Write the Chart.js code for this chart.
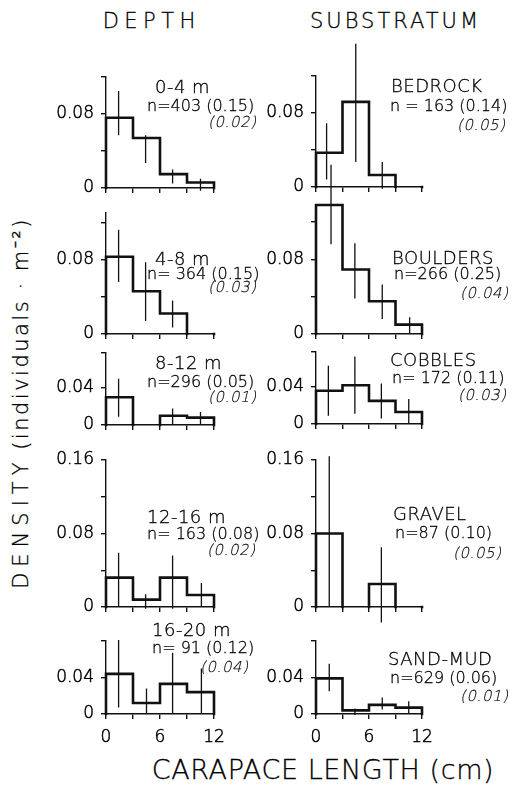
<!DOCTYPE html>
<html>
<head>
<meta charset="utf-8">
<script src="https://cdn.jsdelivr.net/npm/chart.js@4.4.1/dist/chart.umd.min.js"></script>
<style>
  html, body { margin: 0; padding: 0; background: #fff; }
  #fig { position: relative; width: 518px; height: 790px; overflow: hidden;
         font-family: "DejaVu Sans", "Liberation Sans", sans-serif; font-weight: 200; color: #000;
         -webkit-text-stroke: 0.3px #000; }
  #fig canvas { position: absolute; }
  .t { position: absolute; white-space: nowrap; line-height: 1; transform: translateY(-50%); }
  .name { font-size: 18px; letter-spacing: 0.5px; }
  .n { font-size: 16px; }
  /* slanted light face for the standard errors */
  .se { font-size: 15px; letter-spacing: 0.6px; transform: translateY(-50%) skewX(-13deg); -webkit-text-stroke: 0.15px #000; }
  .head { position: absolute; top: 21px; font-size: 21px; line-height: 1; white-space: nowrap;
          transform: translate(-50%, -50%); }
  .ytitle { position: absolute; left: 21px; top: 403px; font-size: 21px; line-height: 1; white-space: nowrap;
            transform: translate(-50%, -50%) rotate(-90deg); }
  .xtitle { position: absolute; left: 323px; top: 769px; font-size: 27px; letter-spacing: 0.6px;
            line-height: 1; white-space: nowrap; transform: translate(-50%, -50%); }
</style>
</head>
<body>
<div id="fig">
  <div class="head" style="left:149px; letter-spacing:5.5px; padding-left:5.5px">DEPTH</div>
  <div class="head" style="left:394px; letter-spacing:3px; padding-left:3px">SUBSTRATUM</div>
  <div class="ytitle"><span style="letter-spacing:6px">DENSITY</span> <span style="letter-spacing:2.5px">(individuals · m⁻²)</span></div>
  <div class="xtitle">CARAPACE LENGTH (cm)</div>
</div>
<script>
// ===== data: carapace-length classes (cm), density per m² =====
const binEdges = [0, 3, 6, 9, 12];
const xTicks = [0, 3, 6, 9, 12];
const xTickLabels = ['0', '', '6', '', '12'];

// y ticks per row of panels (same for both columns)
const rowYTicks = [
  [0, 0.04, 0.08, 0.12],
  [0, 0.04, 0.08, 0.12],
  [0, 0.04, 0.078],
  [0, 0.04, 0.08, 0.12, 0.16],
  [0, 0.04, 0.08]
];
const rowYLabels = [
  ['0', '', '0.08', ''],
  ['0', '', '0.08', ''],
  ['0', '0.04', ''],
  ['0', '', '0.08', '', '0.16'],
  ['0', '0.04', '']
];

// depth
const depthNames = ['0-4 m', '4-8 m', '8-12 m', '12-16 m', '16-20 m'];
const depthN = ['n=403 (0.15)', 'n= 364 (0.15)', 'n=296 (0.05)', 'n= 163 (0.08)', 'n= 91 (0.12)'];
const depthSE = ['(0.02)', '(0.03)', '(0.01)', '(0.02)', '(0.04)'];
const depthYMax = [0.12, 0.13, 0.078, 0.16, 0.08];
const depthBars = [
  [0.076, 0.054, 0.015, 0.006],
  [0.083, 0.046, 0.022, 0],
  [0.030, 0, 0.010, 0.008],
  [0.032, 0.008, 0.032, 0.013],
  [0.044, 0.012, 0.033, 0.024]
];
const depthErrX = [
  [1.4, 4.4, 7.4, 10.5],
  [1.4, 4.4, 7.4],
  [1.4, 7.4, 10.5],
  [1.4, 4.4, 7.4, 10.6],
  [1.4, 4.5, 7.4, 10.6]
];
const depthErrLo = [
  [0.057, 0.027, 0.005, -0.003],
  [0.056, 0.014, 0.007],
  [0.009, 0, 0],
  [0.001, -0.002, -0.002, 0],
  [0.007, 0, 0, 0]
];
const depthErrHi = [
  [0.105, 0.057, 0.020, 0.010],
  [0.112, 0.077, 0.036],
  [0.050, 0.018, 0.014],
  [0.059, 0.014, 0.056, 0.026],
  [0.081, 0.028, 0.067, 0.050]
];

// substratum
const subNames = ['BEDROCK', 'BOULDERS', 'COBBLES', 'GRAVEL', 'SAND-MUD'];
const subN = ['n = 163 (0.14)', 'n=266 (0.25)', 'n= 172 (0.11)', 'n=87 (0.10)', 'n=629 (0.06)'];
const subSE = ['(0.05)', '(0.04)', '(0.03)', '(0.05)', '(0.01)'];
const subYMax = [0.12, 0.138, 0.078, 0.16, 0.08];
const subBars = [
  [0.037, 0.092, 0.013, 0],
  [0.138, 0.069, 0.035, 0.010],
  [0.036, 0.042, 0.025, 0.013],
  [0.080, 0, 0.025, 0],
  [0.039, 0.004, 0.010, 0.007]
];
const subErrX = [
  [1.2, 4.5, 7.5],
  [1.7, 4.4, 7.5, 10.6],
  [1.4, 4.4, 7.4, 10.5],
  [1.5, 7.4],
  [1.5, 4.4, 7.5, 10.5]
];
const subErrLo = [
  [0.008, 0.027, -0.002],
  [0.096, 0.038, 0.016, 0],
  [0.009, 0.011, 0.006, 0],
  [0, -0.017],
  [0.025, -0.001, 0.005, 0]
];
const subErrHi = [
  [0.069, 0.155, 0.027],
  [0.181, 0.097, 0.053, 0.018],
  [0.063, 0.073, 0.044, 0.027],
  [0.164, 0.065],
  [0.055, 0.006, 0.018, 0.014]
];

// ===== layout (px) =====
const depthFrames = [
  { x: 106, w: 108, zero: 188, top: 77 },
  { x: 106, w: 108, zero: 334, top: 213 },
  { x: 106, w: 108, zero: 425, top: 353 },
  { x: 106, w: 108, zero: 607, top: 460 },
  { x: 106, w: 108, zero: 714, top: 641 }
];
const subFrames = [
  { x: 316, w: 106, zero: 187, top: 76 },
  { x: 316, w: 106, zero: 334, top: 205 },
  { x: 316, w: 106, zero: 424, top: 352 },
  { x: 316, w: 106, zero: 607, top: 460 },
  { x: 316, w: 106, zero: 714, top: 641 }
];
// text anchors: name/n left edge + centre y, se right edge + centre y
const depthText = [
  { nx: 155, ny: 87, cx: 147, cy: 106, sx: 258, sy: 122 },
  { nx: 155, ny: 259, cx: 147, cy: 274, sx: 258, sy: 287 },
  { nx: 155, ny: 363, cx: 147, cy: 382, sx: 258, sy: 397 },
  { nx: 147, ny: 517, cx: 147, cy: 534, sx: 257, sy: 550 },
  { nx: 152, ny: 630, cx: 152, cy: 648, sx: 250, sy: 667 }
];
const subText = [
  { nx: 391, ny: 86, cx: 390, cy: 106, sx: 507, sy: 125 },
  { nx: 392, ny: 258, cx: 394, cy: 274, sx: 510, sy: 293 },
  { nx: 390, ny: 360, cx: 392, cy: 378, sx: 508, sy: 395 },
  { nx: 393, ny: 514, cx: 395, cy: 533, sx: 503, sy: 553 },
  { nx: 388, ny: 659, cx: 390, cy: 678, sx: 510, sy: 696 }
];

const ink = '#111';
const tickFont = { family: '"DejaVu Sans", "Liberation Sans", sans-serif', size: 17, weight: 200 };
const fig = document.getElementById('fig');

// histogram outline: steps over the bins, no stroke along the zero line
function outlinePoints(bars) {
  const pts = [{ x: binEdges[0], y: 0 }];
  bars.forEach((b, i) => {
    pts.push({ x: binEdges[i], y: b });
    pts.push({ x: binEdges[i + 1], y: b });
  });
  pts.push({ x: binEdges[binEdges.length - 1], y: 0 });
  const out = [];
  pts.forEach((p, i) => {
    const prev = pts[i - 1];
    if (prev && prev.y === 0 && p.y === 0) out.push({ x: (prev.x + p.x) / 2, y: null });
    out.push(p);
  });
  return out;
}

// vertical error bars, broken with gaps
function errorPoints(xs, lo, hi) {
  const out = [];
  xs.forEach((x, i) => {
    if (i > 0) out.push({ x: x, y: null });
    out.push({ x: x, y: lo[i] }, { x: x, y: hi[i] });
  });
  return out;
}

function makePanel(frame, row, yMax, bars, errX, errLo, errHi, showX) {
  const padL = 70, padR = 24, padT = 50, padB = 22;
  const axisH = showX ? 36 : 12;
  const canvas = document.createElement('canvas');
  const w = padL + frame.w + padR;
  const h = padT + (frame.zero - frame.top) + axisH + padB;
  canvas.width = w; canvas.height = h;
  canvas.style.left = (frame.x - padL) + 'px';
  canvas.style.top = (frame.top - padT) + 'px';
  canvas.style.width = w + 'px'; canvas.style.height = h + 'px';
  fig.appendChild(canvas);

  const yTicks = rowYTicks[row];
  const yLabels = rowYLabels[row];

  new Chart(canvas, {
    type: 'scatter',
    data: {
      datasets: [
        {
          data: outlinePoints(bars), showLine: true, spanGaps: false,
          borderColor: ink, borderWidth: 2.6, borderJoinStyle: 'miter', borderCapStyle: 'square',
          pointRadius: 0, tension: 0, clip: false
        },
        {
          data: errorPoints(errX, errLo, errHi), showLine: true, spanGaps: false,
          borderColor: ink, borderWidth: 1.3, pointRadius: 0, tension: 0, clip: false
        }
      ]
    },
    options: {
      responsive: false, animation: false, events: [],
      layout: { padding: { left: 0, right: padR, top: padT, bottom: padB } },
      plugins: { legend: { display: false }, tooltip: { enabled: false } },
      scales: {
        x: {
          type: 'linear', min: 0, max: 12,
          afterBuildTicks: s => { s.ticks = xTicks.map(v => ({ value: v })); },
          afterFit: s => { s.height = axisH; },
          border: { display: true, color: ink, width: 1.4 },
          grid: { drawOnChartArea: false, drawTicks: true, tickLength: 5, color: ink, lineWidth: 1.4 },
          ticks: {
            autoSkip: false, maxRotation: 0, padding: 8, color: '#000', font: tickFont,
            textStrokeColor: '#000', textStrokeWidth: 0.5,
            callback: (v, i) => showX ? xTickLabels[i] : ''
          }
        },
        y: {
          type: 'linear', min: 0, max: yMax,
          afterBuildTicks: s => { s.ticks = yTicks.map(v => ({ value: v })); },
          afterFit: s => { s.width = padL; },
          border: { display: true, color: ink, width: 1.4 },
          grid: { drawOnChartArea: false, drawTicks: true, tickLength: 5, color: ink, lineWidth: 1.4 },
          ticks: {
            autoSkip: false, padding: 7, color: '#000', font: tickFont,
            textStrokeColor: '#000', textStrokeWidth: 0.5,
            callback: (v, i) => yLabels[i]
          }
        }
      }
    }
  });
}

function addText(cls, str, style) {
  const d = document.createElement('div');
  d.className = 't ' + cls;
  d.textContent = str;
  Object.assign(d.style, style);
  fig.appendChild(d);
}

function addColumn(frames, names, ns, ses, yMax, bars, errX, errLo, errHi, anchors) {
  frames.forEach((f, i) => {
    makePanel(f, i, yMax[i], bars[i], errX[i], errLo[i], errHi[i], i === frames.length - 1);
    const a = anchors[i];
    addText('name', names[i], { left: a.nx + 'px', top: a.ny + 'px' });
    addText('n', ns[i], { left: a.cx + 'px', top: a.cy + 'px' });
    addText('se', ses[i], { right: (518 - a.sx) + 'px', top: a.sy + 'px' });
  });
}

addColumn(depthFrames, depthNames, depthN, depthSE, depthYMax, depthBars, depthErrX, depthErrLo, depthErrHi, depthText);
addColumn(subFrames, subNames, subN, subSE, subYMax, subBars, subErrX, subErrLo, subErrHi, subText);
</script>
</body>
</html>
